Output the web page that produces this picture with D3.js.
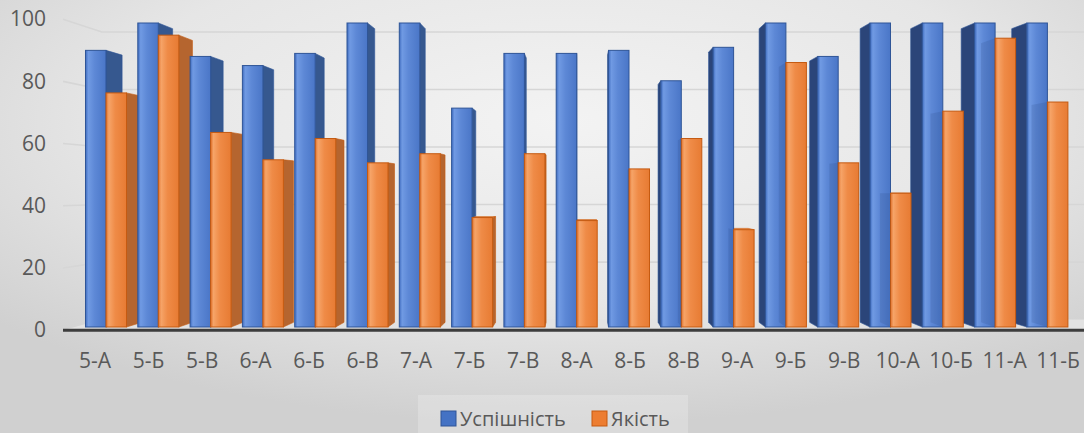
<!DOCTYPE html>
<html><head><meta charset="utf-8">
<script src="https://cdn.jsdelivr.net/npm/d3@7"></script>
<style>html,body{margin:0;padding:0;overflow:hidden;background:#ddd}svg{display:block}</style>
</head><body><svg id="c" width="1084" height="433"></svg>
<script>
const categories = ["5-А","5-Б","5-В","6-А","6-Б","6-В","7-А","7-Б","7-В","8-А","8-Б","8-В","9-А","9-Б","9-В","10-А","10-Б","11-А","11-Б"];
const uspishnist = [91,100,89,86,90,100,100,72,90,90,91,81,92,100,89,100,100,100,100];
const yakist     = [77,96,64,55,62,54,57,36,57,35,52,62,32,87,54,44,71,95,74];
const seriesNames = ["Успішність","Якість"];
const yTicks = [0,20,40,60,80,100];

const seriesValues = [uspishnist, yakist];
const W=1084,H=433;
const VX=580, VY=190, FB=0.966, FW=0.946, FF=1.023;
const proj=(x,y,f)=>[VX+f*(x-VX), VY+f*(y-VY)];
const pts=a=>a.map(p=>p.join(",")).join(" ");

const svg=d3.select("#c");
const defs=svg.append("defs");
const bg=defs.append("radialGradient").attr("id","bg").attr("cx","52%").attr("cy","28%").attr("r","70%");
bg.append("stop").attr("offset","0%").attr("stop-color","#f3f3f3");
bg.append("stop").attr("offset","60%").attr("stop-color","#e6e6e6");
bg.append("stop").attr("offset","100%").attr("stop-color","#d0d0d0");

function lg(id, stops){
  const g=defs.append("linearGradient").attr("id",id).attr("x1","0").attr("x2","1").attr("y1","0").attr("y2","0");
  stops.forEach(s=>g.append("stop").attr("offset",s[0]).attr("stop-color",s[1]));
}
lg("gBlue",[["0%","#3f6cbf"],["14%","#709ae3"],["45%","#5d88d6"],["100%","#4a76c7"]]);
lg("gOrange",[["0%","#e0702a"],["14%","#f6a468"],["45%","#ef8b47"],["100%","#e77b33"]]);

const style = {
  "Успішність": {front:"url(#gBlue)", stroke:"#2f5597", sideR:"#36588f", sideL:"#2b4579", top:"#6f95da", legend:"#4472c4"},
  "Якість":     {front:"url(#gOrange)", stroke:"#c55a11", sideR:"#b5652f", sideL:"#a9561f", top:"#f4a46a", legend:"#ed7d31"}
};

svg.append("rect").attr("width",W).attr("height",H).attr("fill","url(#bg)");

const y = d3.scaleLinear().domain([0,100]).range([327,23]);
const x = d3.scaleBand().domain(categories).range([79.85,1073.55]).paddingInner(0.216).paddingOuter(0.108);
const xs = d3.scaleBand().domain(seriesNames).range([0,x.bandwidth()]);

const x0 = VX + (63-VX)/FF;
const xR = VX + (1090-VX)/FW;

// floor
svg.append("polygon").attr("points",pts([proj(x0,y(0),FF),proj(xR+20,y(0),FF),proj(xR+20,y(0),FW),proj(x0,y(0),FW)]))
  .attr("fill","#e2e2e2");

// gridlines
svg.append("g").selectAll("polyline").data(yTicks.filter(d=>d>0)).join("polyline")
  .attr("points",d=>pts([proj(x0,y(d),FF),proj(x0,y(d),FW),proj(xR,y(d),FW)]))
  .attr("fill","none").attr("stroke","#d6d6d6").attr("stroke-width",1.6);

// bars
const bars=[];
categories.forEach((c,i)=>seriesNames.forEach((s,k)=>{
  const xl=x(c)+xs(s), xr=xl+xs.bandwidth();
  bars.push({c,s,k,v:seriesValues[k][i],xl,xr,yt:y(seriesValues[k][i]),yb:y(0)});
}));
const gB=svg.append("g");
// side faces
bars.forEach(b=>{
  const right=(b.xl+b.xr)/2<VX;
  const xe=right?b.xr:b.xl;
  gB.append("polygon").attr("points",pts([[xe,b.yt],proj(xe,b.yt,FB),proj(xe,b.yb,FB),[xe,b.yb]]))
    .attr("fill",right?style[b.s].sideR:style[b.s].sideL).attr("stroke",style[b.s].stroke).attr("stroke-width",0.6);
});
// top faces
bars.forEach(b=>{
  if(b.yt>VY){
    gB.append("polygon").attr("points",pts([[b.xl,b.yt],[b.xr,b.yt],proj(b.xr,b.yt,FB),proj(b.xl,b.yt,FB)]))
      .attr("fill",style[b.s].top).attr("stroke",style[b.s].stroke).attr("stroke-width",0.6);
  }
});
// front faces
bars.forEach(b=>{
  gB.append("rect").attr("x",b.xl).attr("y",b.yt).attr("width",b.xr-b.xl).attr("height",b.yb-b.yt)
    .attr("fill",style[b.s].front).attr("stroke",style[b.s].stroke).attr("stroke-width",1);
});
// shading artifact of orange side seen through blue on the right part
bars.filter(b=>b.k===1 && (b.xl+b.xr)/2>VX).forEach(b=>{
  gB.append("polygon").attr("points",pts([[b.xl,b.yt],proj(b.xl,b.yt,FB),proj(b.xl,b.yb,FB),[b.xl,b.yb]]))
    .attr("fill","#1f3a70").attr("opacity",0.15);
});

// axis line
svg.append("line").attr("x1",proj(x0,y(0),FF)[0]).attr("y1",proj(x0,y(0),FF)[1])
  .attr("x2",W+5).attr("y2",proj(x0,y(0),FF)[1]).attr("stroke","#3d3d3d").attr("stroke-width",3);

// y axis labels
const yL = d3.scaleLinear().domain([0,100]).range([proj(0,y(0),FF)[1], proj(0,y(100),FF)[1]]);
const ya = svg.append("g").attr("transform","translate(46,0)")
  .call(d3.axisLeft(yL).tickValues(yTicks).tickSize(0).tickPadding(0));
ya.select(".domain").remove();
ya.selectAll("text").attr("fill","#595959").style("font-family","'Open Sans'").style("font-size","21px");

// x axis labels
const xL = d3.scaleBand().domain(categories).range([proj(79.85,0,FF)[0], proj(1073.55,0,FF)[0]]).paddingInner(0.216).paddingOuter(0.108);
const xa = svg.append("g").attr("transform","translate(0,330)")
  .call(d3.axisBottom(xL).tickSize(0).tickPadding(23));
xa.select(".domain").remove();
xa.selectAll("text").attr("fill","#595959").style("font-family","'Open Sans'").style("font-size","21px");

// legend
svg.append("rect").attr("x",418).attr("y",395).attr("width",270).attr("height",40).attr("fill","#ffffff").attr("opacity",0.22);
const legX=[441,592];
const lg2=svg.append("g").selectAll("g").data(seriesNames).join("g").attr("transform",(d,i)=>`translate(${legX[i]},411)`);
lg2.append("rect").attr("width",15).attr("height",15).attr("fill",d=>style[d].legend).attr("stroke",d=>style[d].stroke).attr("stroke-width",1);
lg2.append("text").attr("x",19).attr("y",15).text(d=>d).attr("fill","#595959")
  .style("font-family","'Open Sans'").style("font-size","20px");
</script></body></html>
